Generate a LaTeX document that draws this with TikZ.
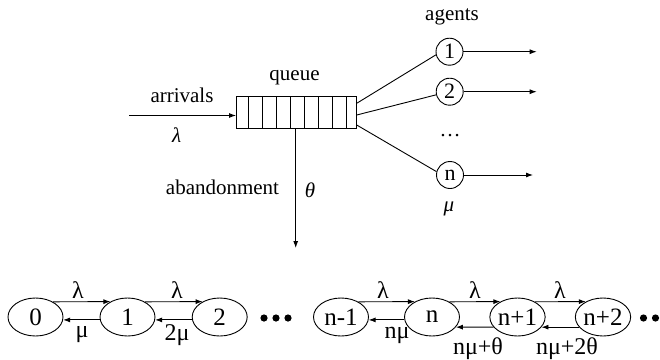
\documentclass[tikz,border=0pt]{standalone}
\usepackage{fontspec}
\setmainfont{Liberation Serif}
\usetikzlibrary{arrows.meta,shapes.geometric,calc}
\begin{document}
\begin{tikzpicture}[x=1pt,y=-1pt,
  line width=0.9pt,
  lbl/.style={inner sep=0pt, font=\fontsize{21}{24}\selectfont},
  blbl/.style={inner sep=0pt, font=\fontsize{24}{27}\selectfont},
  agent/.style={circle, draw, minimum size=27pt, inner sep=0pt, font=\fontsize{22}{25}\selectfont},
  state/.style={ellipse, draw, minimum width=55pt, minimum height=38pt, inner sep=0pt, font=\fontsize{25}{28}\selectfont},
  arr/.style={-{Latex[length=7pt,width=5pt]}},
  bullet/.style={fill=black},
]
\useasboundingbox (0,0) rectangle (660,359);
\clip (0,0) rectangle (660,359);

% ---------- queue system ----------
\node[draw, minimum width=120.7pt, minimum height=31.6pt, inner sep=0pt, outer sep=0pt] (q) at (296.35,112.5) {};
\foreach \x in {248.3,262.3,276.3,290.3,304.3,318.3,332.3,346.3}
  \draw (\x,96.7) -- (\x,128.3);

\node[lbl] (queue) at (294.5,78) {queue};
\node[lbl] (arrivals) at (182,95) {arrivals};
\node[lbl] (lam) at (176.7,135) {\itshape λ};
\coordinate (src) at (129,115.5);
\draw[arr] (src) -- (src -| q.west);

\coordinate (ab) at (295.7,248);
\draw[arr] (ab |- q.south) -- (ab);
\node[lbl] (aband) at (222.5,187) {abandonment};
\node[lbl] (theta) at (310,190) {\itshape θ};

% agents
\node[lbl] (agents) at (452,17) {agents};
\node[agent] (a1) at (449.5,51.7) {1};
\node[agent] (a2) at (449.7,91.7) {2};
\node[lbl] (adots) at (450,136) {\dots};
\node[agent] (an) at (450,175) {n};
\node[lbl] (mu) at (449,209) {\itshape μ};

\coordinate (q1) at ($(q.east)+(0,-9.2)$);
\coordinate (q2) at ($(q.east)+(0,2.5)$);
\coordinate (qn) at ($(q.east)+(0,12.5)$);
\draw (q1) -- (a1.193);
\draw (q2) -- (a2.193);
\draw (qn) -- (an.166);

\coordinate (o1) at (536.7,51.7);
\coordinate (o2) at (536.7,91.7);
\coordinate (on) at (533,175);
\draw[arr] (a1.east) -- (o1);
\draw[arr] (a2.east) -- (o2);
\draw[arr] (an.east) -- (on);

% ---------- birth-death chain ----------
\node[state] (s0) at (35.5,317) {0};
\node[state] (s1) at (127.5,317) {1};
\node[state] (s2) at (219.7,317) {2};
\node[state] (sm) at (341,317) {n-1};
\node[state] (sn) at (432,317) {n};
\node[state] (sp) at (517.5,317) {n+1};
\node[state] (spp) at (603,317) {n+2};

\fill[bullet] (264,318) circle (3.6pt);
\fill[bullet] (276,318) circle (3.6pt);
\fill[bullet] (288,318) circle (3.6pt);
\fill[bullet] (643.5,318) circle (3.6pt);
\fill[bullet] (655.5,318) circle (3.6pt);
\fill[bullet] (667.5,318) circle (3.6pt);

% forward arrows
\draw[arr] (s0.41.6) -- (s1.138.4);
\draw[arr] (s1.41.6) -- (s2.138.4);
\draw[arr] (sm.41.6) -- (sn.138.4);
\draw[arr] (sn.41.6) -- (sp.138.4);
\draw[arr] (sp.41.6) -- (spp.138.4);
% backward arrows
\draw[arr] (s1.186.3) -- (s0.-6.3);
\draw[arr] (s2.186.3) -- (s1.-6.3);
\draw[arr] (sn.186.3) -- (sm.-6.3);
\draw[arr] (sp.203.1) -- (sn.-23.1);
\draw[arr] (spp.203.1) -- (sp.-23.1);

\node[blbl] (l1) at (78,290) {λ};
\node[blbl] (m1) at (82,335) {μ};
\node[blbl] (l2) at (177,290) {λ};
\node[blbl] (m2) at (177,335) {2μ};
\node[blbl] (l3) at (383,290) {λ};
\node[blbl] (m3) at (397,335) {nμ};
\node[blbl] (l4) at (475,290) {λ};
\node[blbl] (m4) at (478,348.5) {nμ+θ};
\node[blbl] (l5) at (560,290) {λ};
\node[blbl] (m5) at (567,348.5) {nμ+2θ};
\end{tikzpicture}
\end{document}
